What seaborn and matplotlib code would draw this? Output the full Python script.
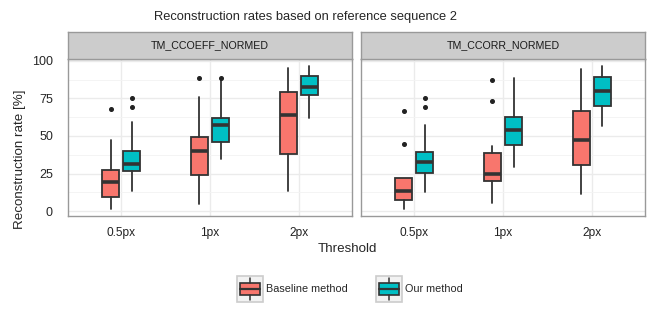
import matplotlib
matplotlib.use("Agg")
import matplotlib.pyplot as plt
import seaborn as sns
from matplotlib.patches import Rectangle
from matplotlib.lines import Line2D
from matplotlib.legend_handler import HandlerBase

# Box summaries: [low whisker, q1, median, q3, high whisker]
thresholds = ['0.5px', '1px', '2px']
panels = ['TM_CCOEFF_NORMED', 'TM_CCORR_NORMED']
methods = ['Baseline method', 'Our method']

ccoeff_baseline = [[1.6, 9.6, 19.6, 27.6, 47.3],
                   [4.7, 24.2, 40.0, 49.3, 75.8],
                   [13.6, 38.2, 64.0, 79.3, 95.1]]
ccoeff_ours = [[13.6, 26.4, 31.3, 40.2, 59.3],
               [34.4, 45.8, 57.1, 62.0, 87.5],
               [61.8, 77.1, 82.7, 90.2, 96.4]]
ccorr_baseline = [[1.6, 7.6, 13.3, 22.2, 22.2],
                  [5.3, 19.8, 24.4, 38.7, 43.1],
                  [11.1, 30.9, 47.1, 66.9, 94.4]]
ccorr_ours = [[12.4, 25.3, 32.7, 39.1, 57.1],
              [29.3, 44.0, 54.0, 62.7, 88.9],
              [56.4, 70.0, 80.2, 89.6, 96.4]]

ccoeff_baseline_out = [[68.0], [88.9], []]
ccoeff_ours_out = [[69.6, 75.3], [88.9], []]
ccorr_baseline_out = [[44.9, 66.9], [73.6, 87.3], []]
ccorr_ours_out = [[69.3, 75.6], [], []]

data = {
    'TM_CCOEFF_NORMED': [(ccoeff_baseline, ccoeff_baseline_out), (ccoeff_ours, ccoeff_ours_out)],
    'TM_CCORR_NORMED': [(ccorr_baseline, ccorr_baseline_out), (ccorr_ours, ccorr_ours_out)],
}

sns.set_style("white")
plt.rcParams['font.family'] = ['Liberation Sans', 'DejaVu Sans']
colors = sns.color_palette(['#F8766D', '#00BFC4'])
edge = '#333333'
offsets = [-0.12, 0.12]

fig = plt.figure(figsize=(6.54, 3.27), dpi=100)
W, H = 654, 327
axes_px = [(68, 59, 352, 216), (361, 59, 645, 216)]

for (x0, y0, x1, y1), name in zip(axes_px, panels):
    ax = fig.add_axes([x0 / W, 1 - y1 / H, (x1 - x0) / W, (y1 - y0) / H])
    for m, (summ, outs) in enumerate(data[name]):
        stats = []
        for s, o in zip(summ, outs):
            stats.append(dict(whislo=s[0], q1=s[1], med=s[2], q3=s[3], whishi=s[4], fliers=o))
        pos = [i + offsets[m] for i in range(len(thresholds))]
        ax.bxp(stats, positions=pos, widths=0.19, patch_artist=True, showcaps=False,
               boxprops=dict(facecolor=colors[m], edgecolor=edge, linewidth=1.3),
               whiskerprops=dict(color=edge, linewidth=1.3),
               medianprops=dict(color=edge, linewidth=2.6),
               flierprops=dict(marker='o', markersize=2.6, markerfacecolor='#222222',
                               markeredgecolor='#222222'),
               zorder=3)
    ax.set_xlim(-0.6, 2.6)
    ax.set_ylim(-3.3, 101.3)
    ax.set_xticks(range(len(thresholds)))
    ax.set_xticklabels(thresholds, color='#222222')
    ax.set_yticks([0, 25, 50, 75, 100])
    ax.set_yticks([12.5, 37.5, 62.5, 87.5], minor=True)
    ax.grid(True, which='major', color='#ebebeb', linewidth=1.0, zorder=0)
    ax.grid(True, which='minor', axis='y', color='#f3f3f3', linewidth=0.6, zorder=0)
    ax.set_axisbelow(True)
    ax.tick_params(axis='both', which='major', length=3, width=0.6, color='#888888',
                   labelsize=9)
    ax.tick_params(axis='y', pad=7.8)
    ax.tick_params(axis='x', labelsize=8.6, pad=5)
    ax.tick_params(axis='both', which='minor', length=0)
    for sp in ax.spines.values():
        sp.set_color('#999999')
        sp.set_linewidth(1.0)
    if name == panels[1]:
        ax.set_yticklabels([])
        ax.tick_params(axis='y', length=0)
    # facet strip
    strip = fig.add_axes([x0 / W, 1 - y0 / H, (x1 - x0) / W, 27 / H])
    strip.set_facecolor('#cccccc')
    strip.set_xticks([])
    strip.set_yticks([])
    for sp in strip.spines.values():
        sp.set_color('#999999')
        sp.set_linewidth(1.0)
    strip.text(0.5, 0.5, name, ha='center', va='center', fontsize=7.7, color='#1a1a1a',
               transform=strip.transAxes)

fig.text(305 / W, 1 - 17 / H, 'Reconstruction rates based on reference sequence 2',
         ha='center', va='center', fontsize=9.3)
fig.text(347 / W, 1 - 249 / H, 'Threshold', ha='center', va='center', fontsize=9.6)
fig.text(20 / W, 1 - 159 / H, 'Reconstruction rate [%]', ha='center', va='center',
         rotation=90, fontsize=9.6)


class BoxKey(HandlerBase):
    def create_artists(self, legend, orig_handle, xdescent, ydescent, width, height,
                       fontsize, trans):
        col = orig_handle.get_facecolor()
        bg = Rectangle((-xdescent, -ydescent), width, height, facecolor='#f2f2f2',
                       edgecolor='#cccccc', linewidth=1.2, transform=trans)
        bx, bw = -xdescent + width * 0.12, width * 0.76
        box = Rectangle((bx, -ydescent + height * 0.28), bw, height * 0.44,
                        facecolor=col, edgecolor=edge, linewidth=1.2, transform=trans)
        cx = -xdescent + width / 2
        med = Line2D([bx, bx + bw], [-ydescent + height / 2] * 2, color=edge,
                     linewidth=1.6, transform=trans)
        w1 = Line2D([cx, cx], [-ydescent + height * 0.08, -ydescent + height * 0.28],
                    color=edge, linewidth=1.1, transform=trans)
        w2 = Line2D([cx, cx], [-ydescent + height * 0.72, -ydescent + height * 0.92],
                    color=edge, linewidth=1.1, transform=trans)
        return [bg, box, w1, w2, med]


handles = [Rectangle((0, 0), 1, 1, facecolor=c) for c in colors]
fig.legend(handles, methods, handler_map={Rectangle: BoxKey()}, loc='center',
           bbox_to_anchor=(350 / W, 1 - 289 / H), ncol=2, frameon=False, fontsize=7.8,
           handlelength=2.4, handleheight=3.2, handletextpad=0.3, columnspacing=2.6)

fig.savefig('out.png', dpi=100)
